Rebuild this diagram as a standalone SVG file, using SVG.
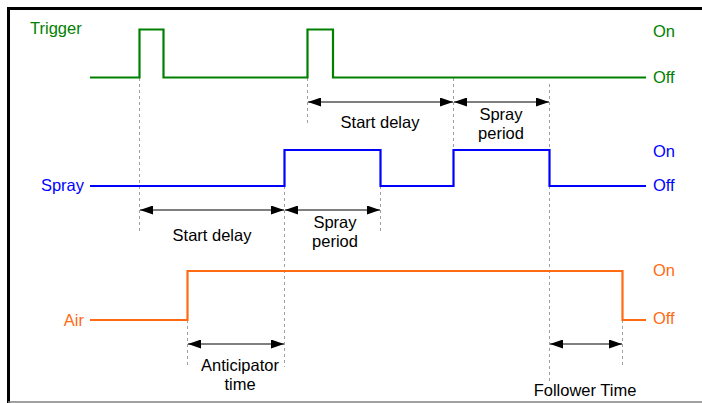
<svg xmlns="http://www.w3.org/2000/svg" width="702" height="403" viewBox="0 0 702 403">
<defs>
<marker id="ah" viewBox="0 0 13 9" refX="13" refY="4.5" markerWidth="13" markerHeight="9" markerUnits="userSpaceOnUse" orient="auto-start-reverse">
<path d="M0,0 L13,4.5 L0,9 Z" fill="#000"/>
</marker>
<style>
text{font-family:"Liberation Sans",Arial,sans-serif;font-size:16.5px}
.g{fill:#008000}.b{fill:#0000ff}.o{fill:#ff6a13}.k{fill:#000}
.sig{fill:none;stroke-width:2.2}
.dash{stroke:#a0a0a0;stroke-width:1;stroke-dasharray:3 3;fill:none}
.arr{stroke:#7f7f7f;stroke-width:2;marker-start:url(#ah);marker-end:url(#ah)}
</style>
</defs>
<rect width="702" height="403" fill="#fff"/>
<g id="frame">
<line x1="7" y1="8.5" x2="702" y2="8.5" stroke="#000" stroke-width="3"/>
<line x1="8.5" y1="7" x2="8.5" y2="403" stroke="#000" stroke-width="3"/>
<line x1="8" y1="402" x2="702" y2="402" stroke="#808080" stroke-width="1.5"/>
</g>
<g id="guides">
<line class="dash" x1="139.5" y1="78" x2="139.5" y2="232"/>
<line class="dash" x1="307.5" y1="78" x2="307.5" y2="125"/>
<line class="dash" x1="453.5" y1="78" x2="453.5" y2="150"/>
<line class="dash" x1="549.5" y1="84" x2="549.5" y2="382"/>
<line class="dash" x1="284.5" y1="150" x2="284.5" y2="367"/>
<line class="dash" x1="380.5" y1="186" x2="380.5" y2="234"/>
<line class="dash" x1="187.5" y1="320" x2="187.5" y2="367"/>
<line class="dash" x1="622.5" y1="320" x2="622.5" y2="367"/>
</g>
<g id="trigger">
<polyline class="sig" stroke="#008000" points="90,77.5 139.5,77.5 139.5,29.5 163.5,29.5 163.5,77.5 307.5,77.5 307.5,29.5 333,29.5 333,77.5 646,77.5"/>
<text class="g" x="30" y="34">Trigger</text>
<text class="g" x="653" y="37">On</text>
<text class="g" x="653" y="83">Off</text>
</g>
<g id="spray">
<polyline class="sig" stroke="#0000ff" points="90,186 284.5,186 284.5,150 380.5,150 380.5,186 453.5,186 453.5,150 549.5,150 549.5,186 646,186"/>
<text class="b" x="84" y="191" text-anchor="end">Spray</text>
<text class="b" x="653" y="157">On</text>
<text class="b" x="653" y="191">Off</text>
</g>
<g id="air">
<polyline class="sig" stroke="#ff6a13" points="90,320 187.5,320 187.5,271 622.5,271 622.5,320 646,320"/>
<text class="o" x="84" y="326" text-anchor="end">Air</text>
<text class="o" x="653" y="276">On</text>
<text class="o" x="653" y="324">Off</text>
</g>
<g id="connectors">
<line class="arr" x1="308" y1="102" x2="453" y2="102"/>
<line class="arr" x1="454" y1="102" x2="549" y2="102"/>
<line class="arr" x1="140" y1="210" x2="284" y2="210"/>
<line class="arr" x1="285" y1="210" x2="380" y2="210"/>
<line class="arr" x1="188" y1="344" x2="284" y2="344"/>
<line class="arr" x1="550" y1="344" x2="622" y2="344"/>
</g>
<g id="labels">
<text class="k" x="380" y="128" text-anchor="middle">Start delay</text>
<text class="k" x="501" y="120" text-anchor="middle">Spray</text>
<text class="k" x="501" y="139" text-anchor="middle">period</text>
<text class="k" x="212" y="241" text-anchor="middle">Start delay</text>
<text class="k" x="335" y="228" text-anchor="middle">Spray</text>
<text class="k" x="335" y="247" text-anchor="middle">period</text>
<text class="k" x="240" y="371" text-anchor="middle">Anticipator</text>
<text class="k" x="240" y="390" text-anchor="middle">time</text>
<text class="k" x="585" y="396" text-anchor="middle">Follower Time</text>
</g>
</svg>
